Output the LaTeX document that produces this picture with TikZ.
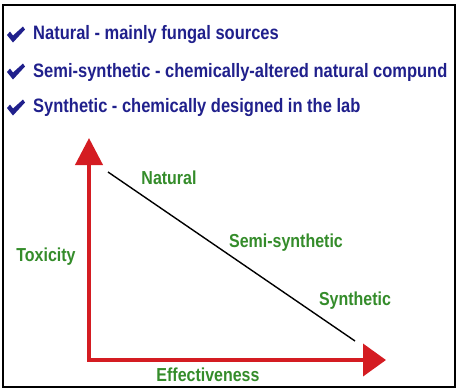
\documentclass[tikz,border=0pt]{standalone}
\usepackage{fontspec}
\setmainfont{Liberation Sans}
\newfontfamily\condfont[FakeStretch=0.85]{Liberation Sans}
\usetikzlibrary{arrows.meta}
\definecolor{navy}{RGB}{32,32,140}
\definecolor{axisred}{RGB}{212,28,34}
\definecolor{labelgreen}{RGB}{52,140,42}
\tikzset{
  item/.style={anchor=west, inner sep=0pt, text=navy, font=\condfont\fontsize{19.4}{22}\selectfont\bfseries},
  glabel/.style={inner sep=0pt, text=labelgreen, font=\condfont\fontsize{18.8}{22}\selectfont\bfseries},
  checkmark/.pic={
    \fill[navy] (-9,0) -- (-6,-3.5) -- (-3,0.5) -- (7,-8.5) -- (9,-5.5) -- (-3,7.5) -- cycle;
  },
}
\begin{document}
\begin{tikzpicture}[x=1pt, y=-1pt]
        \useasboundingbox (0,0) rectangle (458,389);
        % Frame
        \draw[line width=1.6pt] (3,5) rectangle (455,387);

        % Bullet list
        \foreach \y/\name/\txt in {35/nat/Natural - mainly fungal sources,
                                  72/semi/Semi-synthetic - chemically-altered natural compund,
                                  108/syn/Synthetic - chemically designed in the lab} {
          \pic (tick-\name) at (16,\y) {checkmark};
          \node[item] (item-\name) at (33,\y) {\txt};
        }

        % Axes
        \coordinate (ytip) at (89,138);
        \coordinate (origin) at (89,360);
        \coordinate (xtip) at (386,360);
        \draw[axisred, line width=4pt, line join=miter,
              {Triangle[length=27pt,width=27pt]}-{Triangle[length=23pt,width=32pt]}]
              (ytip) -- (origin) -- (xtip);
        \node[glabel] (toxicity) at (46,257) {Toxicity};
        \node[glabel] (effect) at (208,375) {Effectiveness};

        % Trend line
        \coordinate (start) at (108,172);
        \coordinate (end) at (355,341);
        \draw[line width=1.4pt] (start) -- (end);
        \node[glabel] (natural) at (169,178) {Natural};
        \node[glabel] (semisyn) at (286,243) {Semi-synthetic};
        \node[glabel] (synthetic) at (355,301) {Synthetic};
\end{tikzpicture}
\end{document}
